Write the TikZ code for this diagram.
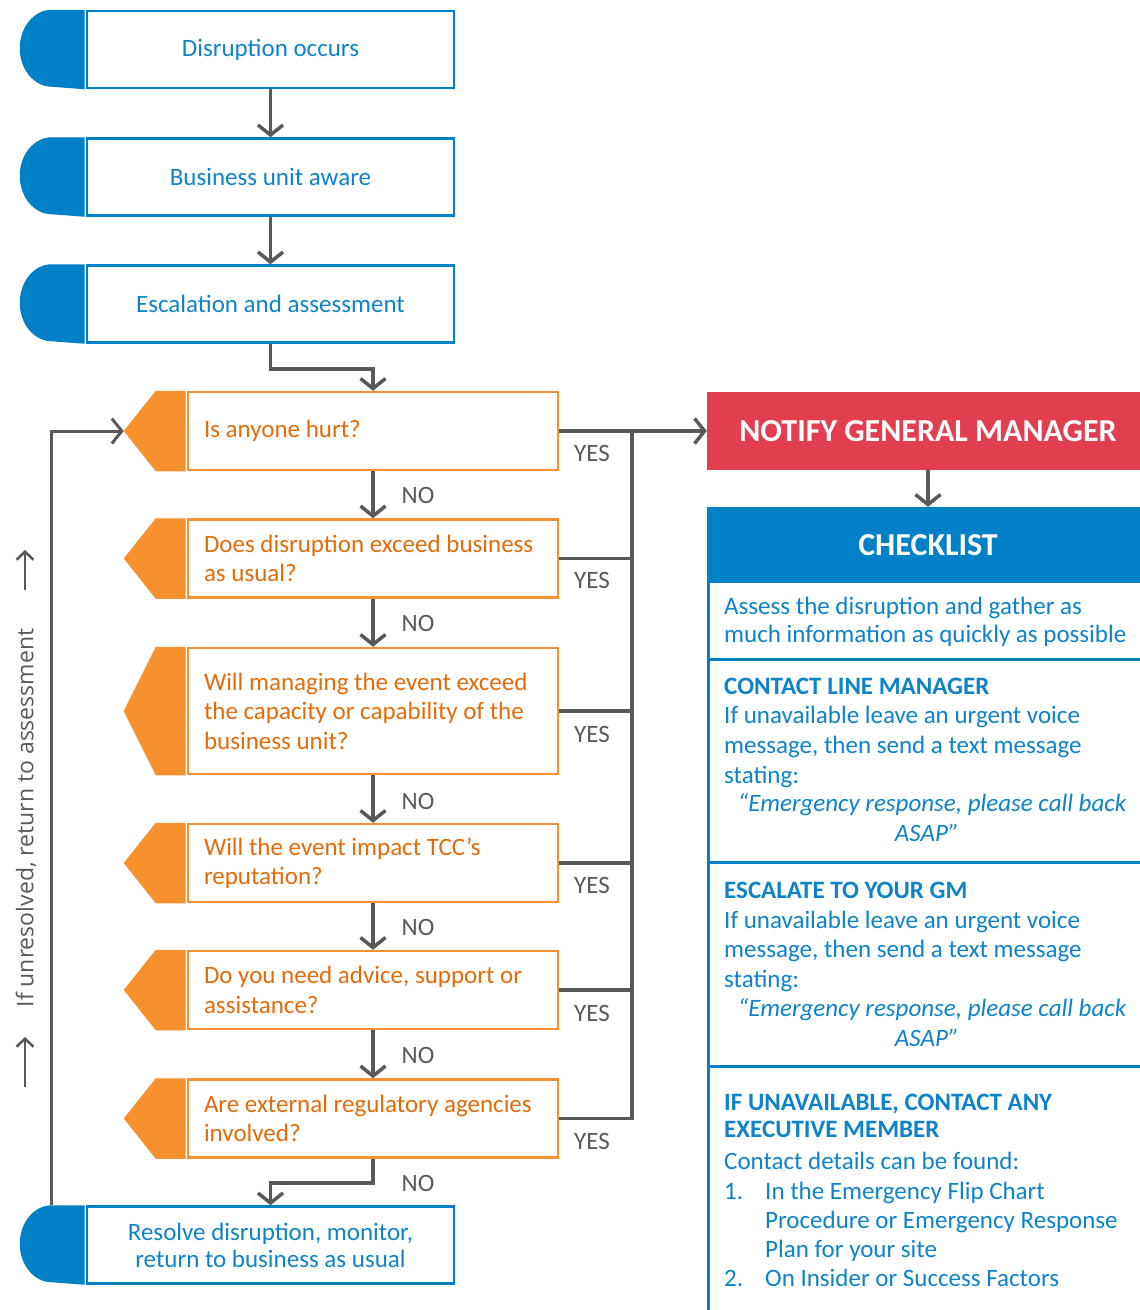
\documentclass[tikz,border=0pt]{standalone}
\usepackage{fontspec}
\setmainfont{Carlito}
\newfontfamily\loopfont{Open Sans}
\usetikzlibrary{arrows.meta}
\definecolor{cblue}{RGB}{0,128,198}
\definecolor{ctext}{RGB}{14,131,201}
\definecolor{corange}{RGB}{247,145,47}
\definecolor{cotext}{RGB}{227,108,10}
\definecolor{cred}{RGB}{227,61,80}
\definecolor{cgray}{RGB}{89,89,89}
\begin{document}
\begin{tikzpicture}[x=1pt,y=-1pt,
  flowbox/.style={rectangle, draw=cblue, line width=2.5pt, fill=white, minimum width=367pt, minimum height=77pt, text=ctext, font=\fontsize{25}{28}\selectfont, align=center, inner sep=0pt},
  qbox/.style={rectangle, draw=corange, line width=2.5pt, fill=white, minimum width=370pt, minimum height=78pt, text=cotext, font=\fontsize{25}{29.5}\selectfont, align=flush left, text width=338pt, inner sep=0pt},
  conn/.style={draw=cgray, line width=3.5pt, -{Straight Barb[length=10pt,width=25pt]}},
  plain/.style={draw=cgray, line width=3.5pt},
  lbl/.style={text=cgray, font=\fontsize{25}{30}\selectfont, inner sep=0pt},
  chk/.style={text=ctext, font=\fontsize{25}{30}\selectfont, inner sep=0pt, anchor=base west},
  chkq/.style={text=ctext, font=\itshape\fontsize{25}{30}\selectfont, inner sep=0pt, anchor=base},
  sep/.style={draw=cblue, line width=3pt},
]
\clip (0,0) rectangle (1140,1310);
\fill[white] (0,0) rectangle (1140,1310);

% blue flow boxes
\node[flowbox] (b1) at (270.5,49.5) {Disruption occurs};
\node[flowbox] (b2) at (270.5,177) {Business unit aware};
\node[flowbox] (b3) at (270.5,304) {Escalation and assessment};
\node[flowbox] (b7) at (270.5,1245) {Resolve disruption, monitor,\\[-1pt]return to business as usual};
\foreach \n in {b1,b2,b3,b7}{
  \fill[cblue] ([xshift=-1.25pt]\n.north west) -- ([xshift=-34pt]\n.north west)
    arc[start angle=90,end angle=270,x radius=32pt,y radius=38.5pt]
    -- ([xshift=-1.25pt]\n.south west) -- cycle;
}

% orange question boxes
\node[qbox] (q1) at (373,431) {Is anyone hurt?};
\node[qbox] (q2) at (373,558.5) {Does disruption exceed business\\as usual?};
\node[qbox, minimum height=126pt] (q3) at (373,711) {Will managing the event exceed\\the capacity or capability of the\\business unit?};
\node[qbox] (q4) at (373,863) {Will the event impact TCC’s\\reputation?};
\node[qbox] (q5) at (373,990) {Do you need advice, support or\\assistance?};
\node[qbox] (q6) at (373,1118.5) {Are external regulatory agencies\\involved?};
\foreach \n in {q1,q2,q3,q4,q5,q6}{
  \fill[corange] ([xshift=-1.25pt]\n.north west) -- ([xshift=-31pt]\n.north west)
    -- ([xshift=-63pt]\n.west) -- ([xshift=-31pt]\n.south west)
    -- ([xshift=-1.25pt]\n.south west) -- cycle;
}
\coordinate (q1tip) at ([xshift=-63pt]q1.west);
\coordinate (b7top) at ([xshift=-34pt]b7.north west);

% right column
\node[fill=cred, minimum width=442pt, minimum height=78pt, inner sep=0pt, text=white, font=\bfseries\fontsize{32}{36}\selectfont] (notify) at (928,431) {NOTIFY GENERAL MANAGER};
\node[fill=cblue, minimum width=442pt, minimum height=76pt, inner sep=0pt, text=white, font=\bfseries\fontsize{32}{36}\selectfont] (chkhead) at (928,545) {CHECKLIST};
\draw[sep] ([xshift=1.5pt]chkhead.south west) -- ++(0,740);
\draw[sep] (707,659) -- (1150,659);
\draw[sep] (707,862) -- (1150,862);
\draw[sep] (707,1066) -- (1150,1066);

\node[chk] (c1a) at (724,614) {Assess the disruption and gather as};
\node[chk] (c1b) at (724,642) {much information as quickly as possible};
\node[chk, font=\bfseries\fontsize{25}{30}\selectfont] (c2a) at (724,694) {CONTACT LINE MANAGER};
\node[chk] (c2b) at (724,723) {If unavailable leave an urgent voice};
\node[chk] (c2c) at (724,753) {message, then send a text message};
\node[chk] (c2d) at (724,783) {stating:};
\node[chkq] (c2e) at (932,811) {“Emergency response, please call back};
\node[chkq] (c2f) at (927,841) {ASAP”};
\node[chk, font=\bfseries\fontsize{25}{30}\selectfont] (c3a) at (724,898) {ESCALATE TO YOUR GM};
\node[chk] (c3b) at (724,928) {If unavailable leave an urgent voice};
\node[chk] (c3c) at (724,957) {message, then send a text message};
\node[chk] (c3d) at (724,987) {stating:};
\node[chkq] (c3e) at (932,1016) {“Emergency response, please call back};
\node[chkq] (c3f) at (927,1046) {ASAP”};
\node[chk, font=\bfseries\fontsize{25}{30}\selectfont] (c4a) at (724,1110) {IF UNAVAILABLE, CONTACT ANY};
\node[chk, font=\bfseries\fontsize{25}{30}\selectfont] (c4b) at (724,1137) {EXECUTIVE MEMBER};
\node[chk] (c4c) at (724,1169) {Contact details can be found:};
\node[chk] (c4d) at (724,1199) {1.};
\node[chk] (c4e) at (765,1199) {In the Emergency Flip Chart};
\node[chk] (c4f) at (765,1228) {Procedure or Emergency Response};
\node[chk] (c4g) at (765,1257) {Plan for your site};
\node[chk] (c4h) at (724,1286) {2.};
\node[chk] (c4i) at (765,1286) {On Insider or Success Factors};

% connectors
\draw[conn] (b1.south) -- (b2.north);
\draw[conn] (b2.south) -- (b3.north);
\draw[conn] (b3.south) -- ++(0,25) -| (q1.north);
\draw[conn] (q1.south) -- (q2.north);
\draw[conn] (q2.south) -- (q3.north);
\draw[conn] (q3.south) -- (q4.north);
\draw[conn] (q4.south) -- (q5.north);
\draw[conn] (q5.south) -- (q6.north);
\draw[conn] (q6.south) -- ++(0,24) -| (b7.north);
\draw[conn, line width=3pt] (b7top) |- (q1tip);
\coordinate (bus) at (632,431);
\draw[conn] (q1.east) -- (notify.west);
\foreach \n in {q2,q3,q4,q5,q6}{
  \draw[plain] (\n.east) -| (bus);
}
\draw[conn] (notify.south) -- (chkhead.north);

% labels
\node[lbl] (n1) at (418,495) {NO};
\node[lbl] (n2) at (418,623) {NO};
\node[lbl] (n3) at (418,801) {NO};
\node[lbl] (n4) at (418,927) {NO};
\node[lbl] (n5) at (418,1055) {NO};
\node[lbl] (n6) at (418,1183) {NO};
\node[lbl] (y1) at (592,453) {YES};
\node[lbl] (y2) at (592,580) {YES};
\node[lbl] (y3) at (592,734) {YES};
\node[lbl] (y4) at (592,885) {YES};
\node[lbl] (y5) at (592,1013) {YES};
\node[lbl] (y6) at (592,1141) {YES};

\node[lbl, rotate=90, font=\loopfont\fontsize{23}{28}\selectfont] (loop) at (26,818) {If unresolved, return to assessment};
\draw[draw=cgray, line width=2.5pt, -{Straight Barb[length=8pt,width=17pt]}] ([xshift=-1pt,yshift=228pt]loop.center) -- ([xshift=-1pt,yshift=268pt]loop.center);
\draw[draw=cgray, line width=2.5pt, -{Straight Barb[length=8pt,width=17pt]}] ([xshift=-1pt,yshift=-269pt]loop.center) -- ([xshift=-1pt,yshift=-219pt]loop.center);
\end{tikzpicture}
\end{document}
